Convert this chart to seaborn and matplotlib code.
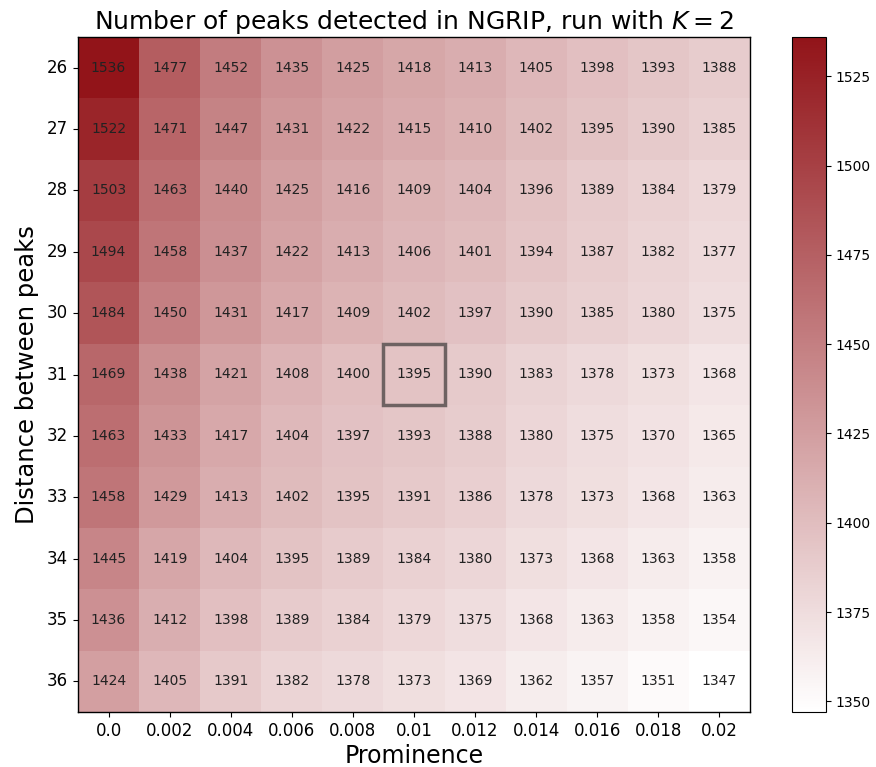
import matplotlib
matplotlib.use("Agg")
import matplotlib.pyplot as plt
import seaborn as sns
import numpy as np
import pandas as pd
from matplotlib.colors import LinearSegmentedColormap
from matplotlib.patches import Rectangle

distances = [26, 27, 28, 29, 30, 31, 32, 33, 34, 35, 36]
prominence_labels = ["0.0", "0.002", "0.004", "0.006", "0.008", "0.01",
                     "0.012", "0.014", "0.016", "0.018", "0.02"]

row26 = [1536, 1477, 1452, 1435, 1425, 1418, 1413, 1405, 1398, 1393, 1388]
row27 = [1522, 1471, 1447, 1431, 1422, 1415, 1410, 1402, 1395, 1390, 1385]
row28 = [1503, 1463, 1440, 1425, 1416, 1409, 1404, 1396, 1389, 1384, 1379]
row29 = [1494, 1458, 1437, 1422, 1413, 1406, 1401, 1394, 1387, 1382, 1377]
row30 = [1484, 1450, 1431, 1417, 1409, 1402, 1397, 1390, 1385, 1380, 1375]
row31 = [1469, 1438, 1421, 1408, 1400, 1395, 1390, 1383, 1378, 1373, 1368]
row32 = [1463, 1433, 1417, 1404, 1397, 1393, 1388, 1380, 1375, 1370, 1365]
row33 = [1458, 1429, 1413, 1402, 1395, 1391, 1386, 1378, 1373, 1368, 1363]
row34 = [1445, 1419, 1404, 1395, 1389, 1384, 1380, 1373, 1368, 1363, 1358]
row35 = [1436, 1412, 1398, 1389, 1384, 1379, 1375, 1368, 1363, 1358, 1354]
row36 = [1424, 1405, 1391, 1382, 1378, 1373, 1369, 1362, 1357, 1351, 1347]

highlight_distance = 31
highlight_prominence = "0.01"

df = pd.DataFrame([row26, row27, row28, row29, row30, row31, row32, row33,
                   row34, row35, row36],
                  index=distances, columns=prominence_labels)

cmap = LinearSegmentedColormap.from_list("wr", ["#ffffff", "#921419"])

W, H = 876, 767
fig = plt.figure(figsize=(W / 100, H / 100), dpi=100)
ax = fig.add_axes([78 / W, 1 - 712 / H, (750 - 78) / W, (712 - 37) / H])
cax = fig.add_axes([792 / W, 1 - 712 / H, 34 / W, (712 - 37) / H])

sns.heatmap(df, ax=ax, cbar_ax=cax, cmap=cmap, annot=True, fmt="d",
            annot_kws={"fontsize": 10, "color": "#222222"},
            vmin=df.values.min(), vmax=df.values.max())

for s in ax.spines.values():
    s.set_visible(True)
    s.set_color("black")
    s.set_linewidth(1.0)
cb = ax.collections[0].colorbar
cb.outline.set_visible(True)
cb.outline.set_edgecolor("black")
cb.outline.set_linewidth(0.8)
cb.set_ticks([1350, 1375, 1400, 1425, 1450, 1475, 1500, 1525])
cax.tick_params(labelsize=10)

r = distances.index(highlight_distance)
c = prominence_labels.index(highlight_prominence)
ax.add_patch(Rectangle((c, r), 1, 1, fill=False, edgecolor="#6e6262",
                       linewidth=2.5))

ax.set_xlabel("Prominence", fontsize=17, labelpad=3)
ax.set_ylabel("Distance between peaks", fontsize=17.5, labelpad=6)
ax.tick_params(axis="x", labelsize=12, rotation=0)
ax.tick_params(axis="y", labelsize=12, rotation=0)
ax.set_title("Number of peaks detected in NGRIP, run with $K = 2$",
             fontsize=18, pad=6)

fig.savefig("out.png", dpi=100)
